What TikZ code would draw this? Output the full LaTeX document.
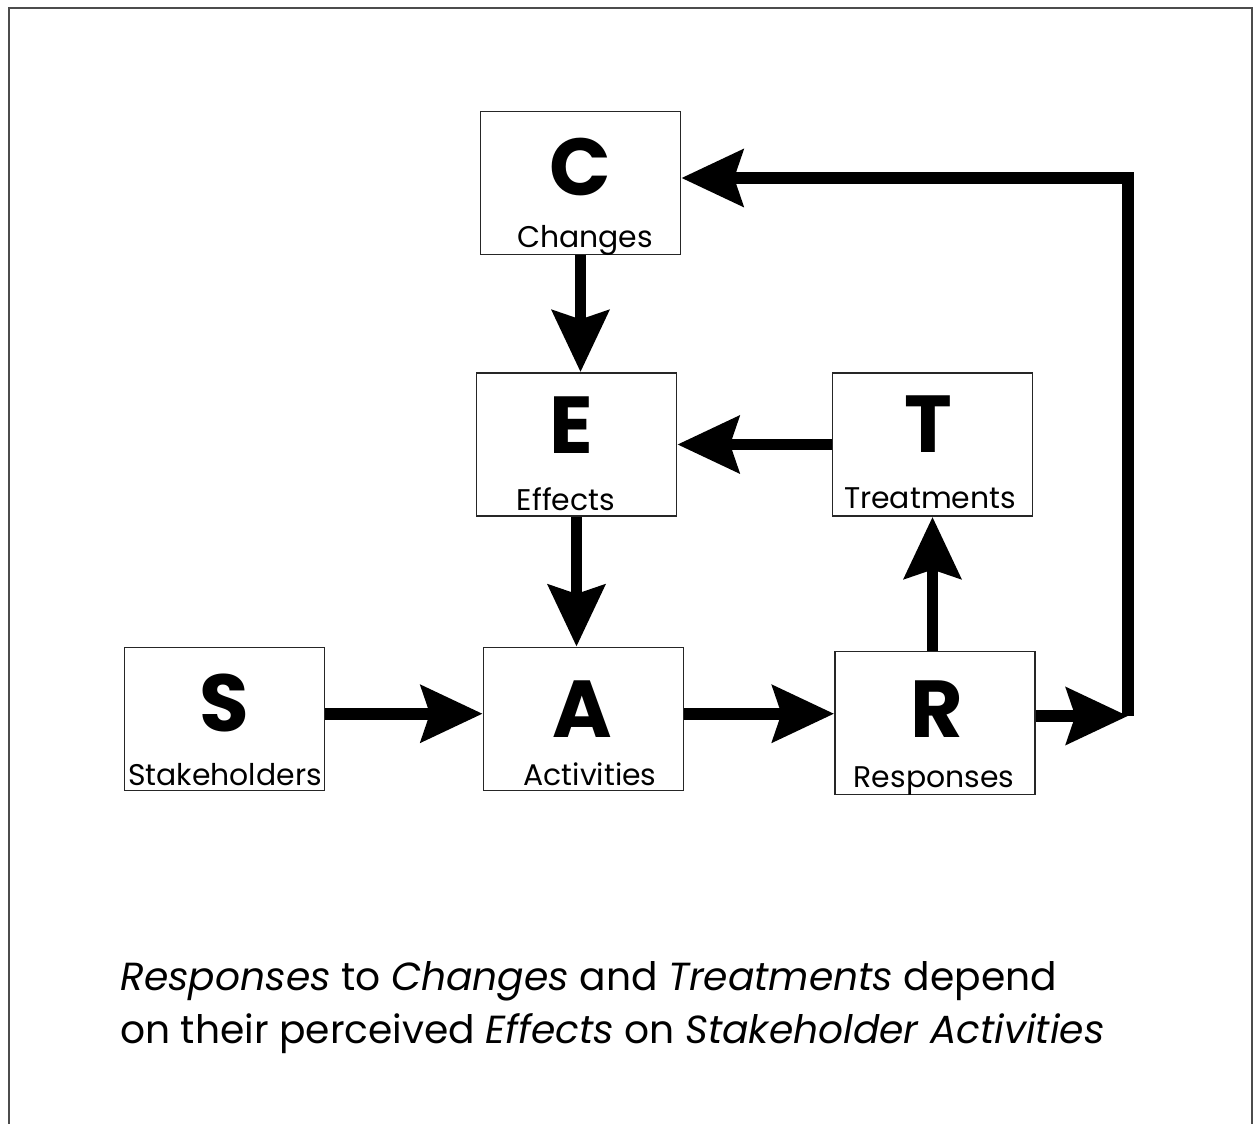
\documentclass[tikz,border=0pt]{standalone}
\usepackage{fontspec}
\setmainfont{Poppins}
\usetikzlibrary{arrows.meta,positioning}

\begin{document}
\begin{tikzpicture}[x=0.02cm,y=-0.02cm,
  box/.style={rectangle,draw=black!85,line width=1pt,minimum width=4cm,minimum height=2.86cm,inner sep=0pt},
  letter/.style={font=\fontsize{46}{46}\selectfont\bfseries},
  boxname/.style={font=\fontsize{17}{17}\selectfont,inner sep=0pt,anchor=base},
  flow/.style={line width=6.8pt,-{Stealth[length=35pt,width=32pt,inset=5pt]}}]
\useasboundingbox (0,0) rectangle (1258,1124);
\draw[line width=1.2pt,black!70] (9,1130) -- (9,8) -- (1252,8) -- (1252,1130);

\node[box] (C) at (580.5,183){};
\node[box] (E) at (576.5,444.5){};
\node[box] (T) at (932.5,444.5){};
\node[box] (S) at (224.5,719){};
\node[box] (A) at (583.5,719){};
\node[box] (R) at (935,723){};

\node[letter] (Cl) at (580,167){C};
\node[letter] (El) at (571,425){E};
\node[letter] (Tl) at (928,424){T};
\node[letter] (Sl) at (224,703){S};
\node[letter] (Al) at (582,709){A};
\node[letter] (Rl) at (937,709){R};

\node[boxname] (Cn) at (585,248){Changes};
\node[boxname] (En) at (566,511){Effects};
\node[boxname] (Tn) at (930,509){Treatments};
\node[boxname] (Sn) at (225,786){Stakeholders};
\node[boxname] (An) at (590,786){Activities};
\node[boxname] (Rn) at (934,787){Responses};

\coordinate (loop1) at (1128,716);
\coordinate (loop2) at (1128,178);

\draw[flow] (C.south) to (C.south |- E.north);
\draw[flow] (T.west) to (T.west -| E.east);
\draw[flow] (E.south) to (E.south |- A.north);
\draw[flow] ([yshift=3pt]S.east) to ([yshift=3pt]S.east -| A.west);
\draw[flow] ([yshift=3pt]A.east) to ([yshift=3pt]A.east -| R.west);
\draw[flow] (T.south |- R.north) to (T.south);
\draw[flow] (R.east |- loop1) to (loop1);
\draw[flow] (loop1) -- (loop2) -- (loop2 -| C.east);

\node[anchor=base west,align=left,inner sep=0pt,font=\fontsize{22.3}{30}\selectfont] (caption) at (120,1043)
  {\textit{Responses} to \textit{Changes} and \textit{Treatments} depend\\
   on their perceived \textit{Effects} on \textit{Stakeholder Activities}};
\end{tikzpicture}
\end{document}
